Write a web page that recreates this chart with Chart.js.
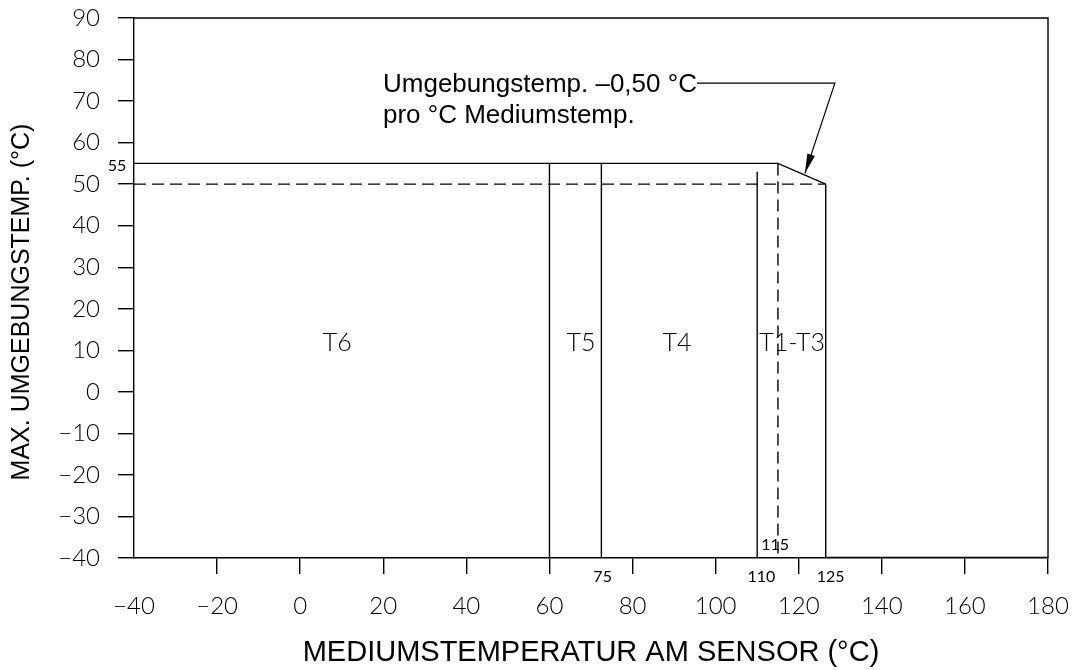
<!DOCTYPE html>
<html>
<head>
<meta charset="utf-8">
<script src="https://cdn.jsdelivr.net/npm/chart.js@4"></script>
<style>
  html, body { margin: 0; padding: 0; background: #fff; }
  #wrap { width: 1078px; height: 670px; }
</style>
</head>
<body>
<div id="wrap"><canvas id="tempChart" width="1078" height="670"></canvas></div>
<script>
// limit line: 55 °C up to 115 °C, then -0,5 °C per °C down to 50 °C
const limitX = [-40, 115, 126.5];
const limitY = [55, 55, 50];
const dashedLimitX = [-40, 126.5];
const dashedLimitY = [50, 50];

// zone boundaries (x) and where each one starts at the top (y)
const boundX = [60, 72.5, 110, 126.5];
const boundTop = [55, 55, 53, 50];
const dashedBoundX = 115;
const dashedBoundTop = 55;

const zoneLabels = ['T6', 'T5', 'T4', 'T1-T3'];
const zoneLabelX = [8.9, 67.6, 90.7, 118.4];
const zoneLabelY = 11.8;

const xTicks = [-40, -20, 0, 20, 40, 60, 80, 100, 120, 140, 160, 180];
const yTicks = [90, 80, 70, 60, 50, 40, 30, 20, 10, 0, -10, -20, -30, -40];

// arrow note
const noteLines = ['Umgebungstemp. \u20130,50 \u00b0C', 'pro \u00b0C Mediumstemp.'];
const leaderX = [95.5, 128.7, 121.5];
const leaderY = [74.3, 74.3, 52.6];

const yTitle = 'MAX. UMGEBUNGSTEMP. (\u00b0C)';

const thinFont = "Lato, 'DejaVu Sans', sans-serif";
const textFont = "'Liberation Sans', Arial, sans-serif";

function seg(xs, ys) {
    return xs.map((x, i) => ({ x: x, y: ys[i] }));
}

function lineSet(points, dash, width) {
    return {
        data: points,
        showLine: true,
        borderColor: '#000',
        borderWidth: width || 1.4,
        borderDash: dash || [],
        pointRadius: 0,
        fill: false,
        tension: 0
    };
}

const datasets = [
    lineSet(seg(limitX, limitY)),
    lineSet(seg(dashedLimitX, dashedLimitY), [12, 6]),
    lineSet([{ x: dashedBoundX, y: dashedBoundTop }, { x: dashedBoundX, y: -40 }], [12, 6]),
    lineSet([{ x: 126.5, y: -40 }, { x: 180, y: -40 }], [], 2.5),
    lineSet(seg(leaderX, leaderY), [], 1.2)
];
boundX.forEach((x, i) => {
    datasets.push(lineSet([{ x: x, y: boundTop[i] }, { x: x, y: -40 }]));
});

const minus = v => String(v).replace('-', '\u2212');

const annotations = {
    id: 'annotations',
    afterDatasetsDraw(chart) {
        const ctx = chart.ctx;
        const xs = chart.scales.x;
        const ys = chart.scales.y;
        const area = chart.chartArea;
        ctx.save();
        // frame top and right
        ctx.strokeStyle = '#000';
        ctx.lineWidth = 1.4;
        ctx.beginPath();
        ctx.moveTo(area.left, area.top);
        ctx.lineTo(area.right, area.top);
        ctx.lineTo(area.right, area.bottom);
        ctx.stroke();

        ctx.fillStyle = '#000';
        ctx.textBaseline = 'middle';
        ctx.textAlign = 'center';
        ctx.font = '300 25px ' + thinFont;
        zoneLabels.forEach((t, i) => {
            ctx.fillText(t, xs.getPixelForValue(zoneLabelX[i]), ys.getPixelForValue(zoneLabelY));
        });

        // small value labels
        ctx.font = '400 16px ' + thinFont;
        ctx.fillText('55', 117, ys.getPixelForValue(55) + 2);
        ctx.fillText('75', xs.getPixelForValue(72.8), area.bottom + 19);
        ctx.fillText('110', xs.getPixelForValue(111), area.bottom + 19);
        ctx.fillText('125', xs.getPixelForValue(127.7), area.bottom + 19);
        ctx.fillText('115', xs.getPixelForValue(114.3), area.bottom - 13);

        // note text
        ctx.font = '26px ' + textFont;
        ctx.textAlign = 'left';
        ctx.textBaseline = 'alphabetic';
        const ny = ys.getPixelForValue(leaderY[0]);
        ctx.fillText(noteLines[0], 383, ny + 9);
        ctx.fillText(noteLines[1], 383, ny + 40);

        // y axis title
        ctx.save();
        ctx.translate(22, 302);
        ctx.rotate(-Math.PI / 2);
        ctx.textAlign = 'center';
        ctx.textBaseline = 'middle';
        ctx.font = '25px ' + textFont;
        ctx.fillText(yTitle, 0, 0);
        ctx.restore();

        // arrow head
        const x1 = xs.getPixelForValue(leaderX[1]), y1 = ys.getPixelForValue(leaderY[1]);
        const x2 = xs.getPixelForValue(leaderX[2]), y2 = ys.getPixelForValue(leaderY[2]);
        const ang = Math.atan2(y2 - y1, x2 - x1);
        const len = 20, half = 0.2;
        ctx.beginPath();
        ctx.moveTo(x2, y2);
        ctx.lineTo(x2 - len * Math.cos(ang - half), y2 - len * Math.sin(ang - half));
        ctx.lineTo(x2 - len * Math.cos(ang + half), y2 - len * Math.sin(ang + half));
        ctx.closePath();
        ctx.fill();
        ctx.restore();
    }
};

new Chart(document.getElementById('tempChart'), {
    type: 'scatter',
    data: { datasets: datasets },
    options: {
        responsive: false,
        animation: false,
        layout: { padding: { top: 18, right: 30, left: 0, bottom: 0 } },
        plugins: { legend: { display: false }, tooltip: { enabled: false } },
        scales: {
            x: {
                type: 'linear',
                min: -40,
                max: 180,
                afterBuildTicks: s => { s.ticks = xTicks.map(v => ({ value: v })); },
                afterFit: s => {
                    s.height = 112;
                    s.paddingLeft = 0;
                    s.paddingRight = 0;
                },
                grid: {
                    drawOnChartArea: false,
                    drawTicks: true,
                    tickLength: 16,
                    color: c => (c.tick && c.tick.value === -40 ? 'rgba(0,0,0,0)' : '#000'),
                    lineWidth: 1.4
                },
                border: { display: true, color: '#000', width: 1.4 },
                ticks: {
                    color: '#000',
                    padding: 18,
                    maxRotation: 0,
                    autoSkip: false,
                    font: { family: thinFont, size: 24, weight: '300' },
                    callback: v => minus(v)
                },
                title: {
                    display: true,
                    text: 'MEDIUMSTEMPERATUR AM SENSOR (\u00b0C)',
                    color: '#000',
                    font: { family: textFont, size: 29 },
                    padding: { top: 0, bottom: 0 }
                }
            },
            y: {
                type: 'linear',
                min: -40,
                max: 90,
                afterBuildTicks: s => { s.ticks = yTicks.map(v => ({ value: v })); },
                afterFit: s => {
                    s.width = 134;
                    s.paddingTop = 0;
                    s.paddingBottom = 0;
                },
                grid: {
                    drawOnChartArea: false,
                    drawTicks: true,
                    tickLength: 16,
                    color: '#000',
                    lineWidth: 1.4
                },
                border: { display: true, color: '#000', width: 1.4 },
                ticks: {
                    color: '#000',
                    padding: 18,
                    autoSkip: false,
                    font: { family: thinFont, size: 24, weight: '300' },
                    callback: v => minus(v)
                }
            }
        }
    },
    plugins: [annotations]
});
</script>
</body>
</html>
